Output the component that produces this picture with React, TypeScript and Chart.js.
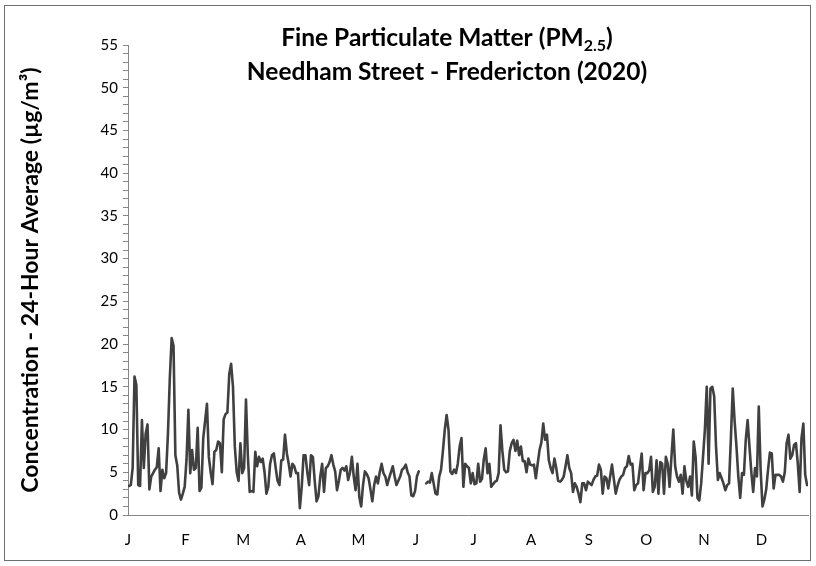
import React, { useEffect, useRef } from 'react';
import { Chart, registerables } from 'chart.js';

Chart.register(...registerables);

// Month tick labels (one every 31 days)
const monthLabels = ['J', 'F', 'M', 'A', 'M', 'J', 'J', 'A', 'S', 'O', 'N', 'D'];
const yMax = 55;

// Daily 24-hour PM2.5 averages (µg/m³), 2020
const jan = [3.4, 3.5, 5.5, 16.2, 15.2, 3.5, 3.4, 11.1, 5.5, 9.5, 10.6, 3, 4.5, 4.9, 5.3, 5.6, 7.8, 2.8, 5.3, 4.3, 4.9, 9.5, 16, 20.7, 19.8, 7, 5.8, 2.6, 1.8, 2.5, 3.3];
const feb = [6.5, 12.3, 4.9, 7.6, 5.3, 5.5, 10.2, 2.8, 3.2, 9, 11, 13, 6.8, 5, 3.6, 7.4, 7.6, 8.6, 8.4, 5, 11.2, 11.8, 12, 16.5, 17.7, 15, 8, 5, 4];
const mar = [8.4, 4.9, 5.5, 13.5, 7, 2.7, 2.8, 2.7, 7.4, 5.7, 6.8, 6.2, 6.6, 5, 2.5, 3.3, 6, 7, 7.2, 5.5, 4, 3.5, 6.4, 6.5, 9.4, 7.2, 6, 4.5, 6, 5.7, 4.9];
const apr = [4.9, 0.8, 3.3, 7, 7, 5, 3.5, 7, 6.8, 4, 1.6, 2.2, 4.5, 6, 2.7, 5.5, 5.7, 6.2, 7, 5.9, 5.1, 2.9, 4, 5.3, 5.5, 5.2, 5.7, 4.1, 5, 6.8];
const may = [4.5, 2.9, 6, 2.1, 1, 3.5, 5.1, 4.8, 4.3, 3, 1.6, 3.5, 4.5, 3.7, 5, 6, 4.9, 4.5, 3.5, 4.3, 5, 5.7, 4.5, 3.5, 4, 4.5, 5.3, 5.5, 5.9, 5, 4.5];
const jun = [2.3, 2.2, 2.8, 4.5, 5.1, null, null, null, 3.7, 3.9, 3.8, 4.9, 3.7, 2.5, 2.4, 4.5, 5.3, 7.5, 10, 11.7, 10, 5.1, 4.8, 5.3, 4.9, 6, 8, 9, 3.3, 6];
const jul = [5.7, 5.5, 3.7, 4.9, 3.6, 3.7, 6, 3.9, 4.2, 6.5, 7.8, 4.9, 6, 3.3, 3.6, 3.9, 4, 4.9, 10.5, 7.5, 5.3, 5, 5.1, 7.5, 8.4, 8.8, 7.5, 8.7, 7, 8, 6.3];
const aug = [6.3, 5, 6.6, 5.9, 5.8, 5.9, 4.3, 6, 7.6, 8.5, 10.7, 8.8, 9.4, 6.4, 5.5, 4.9, 6.6, 5.5, 4, 3.9, 4.1, 4.5, 5.7, 7, 5.5, 4.9, 2.7, 3.7, 3.3, 2.5, 1.5];
const sep = [3.7, 3.7, 2.9, 3.9, 3.7, 3.5, 4.1, 4.5, 4.6, 5.9, 5.3, 2.5, 4.5, 4.3, 3.1, 4.5, 5.9, 4.2, 2.5, 3.4, 4.1, 4.5, 4.7, 5.5, 5.7, 6.9, 5.9, 6, 2.9, 3.5];
const oct = [3.7, 5.5, 7.2, 2.9, 4.9, 4.9, 5.2, 6.8, 2.7, 3.3, 6.4, 2.5, 6.2, 6, 2.5, 6.8, 6, 3.3, 6.8, 10, 5.7, 4.5, 3.9, 4.7, 2.5, 5.7, 4, 3.3, 4.5, 2.3, 8.6];
const nov = [6.8, 2, 1.7, 3.7, 6.8, 10, 15, 6, 14.8, 15, 13.9, 8, 4.1, 4.9, 4.3, 3.7, 2.9, 3.5, 3.7, 9, 14.8, 11, 8, 4.5, 2, 4.9, 4.7, 8.8, 11.1, 8];
const dec = [5, 2.7, 5.5, 4.5, 12.7, 5.3, 1, 1.8, 3, 5.3, 7.3, 7.2, 3.1, 4.7, 4.7, 4.7, 4.5, 3.9, 5, 8.4, 9.4, 6.6, 7, 8.2, 8.4, 6, 2.7, 9, 10.7, 4.7, 3.5];

const daily: (number | null)[] = [...jan, ...feb, ...mar, ...apr, ...may, ...jun, ...jul, ...aug, ...sep, ...oct, ...nov, ...dec];

const titleLine1 = [
  { text: 'Fine Particulate Matter (PM', sub: false },
  { text: '2.5', sub: true },
  { text: ')', sub: false },
];
const titleLine2 = [{ text: 'Needham Street - Fredericton (2020)', sub: false }];
const yTitle = 'Concentration - 24-Hour Average (µg/m³)';

const FONT = 'Lato, "Open Sans", sans-serif';

const framePlugin = {
  id: 'frame',
  beforeDraw(chart: any) {
    const { ctx, width, height } = chart;
    ctx.save();
    ctx.fillStyle = '#ffffff';
    ctx.fillRect(0, 0, width, height);
    ctx.strokeStyle = '#6e6e6e';
    ctx.lineWidth = 1;
    ctx.strokeRect(4.5, 5.5, width - 10, height - 11);
    ctx.restore();
  },
};

function drawRuns(ctx: CanvasRenderingContext2D, runs: { text: string; sub: boolean }[], cx: number, y: number, size: number) {
  const mainFont = `bold ${size}px ${FONT}`;
  const subFont = `bold ${Math.round(size * 0.65)}px ${FONT}`;
  let total = 0;
  for (const r of runs) {
    ctx.font = r.sub ? subFont : mainFont;
    total += ctx.measureText(r.text).width;
  }
  let x = cx - total / 2;
  ctx.textAlign = 'left';
  ctx.textBaseline = 'alphabetic';
  for (const r of runs) {
    ctx.font = r.sub ? subFont : mainFont;
    ctx.fillText(r.text, x, r.sub ? y + size * 0.2 : y);
    x += ctx.measureText(r.text).width;
  }
}

const titlePlugin = {
  id: 'richTitle',
  afterDraw(chart: any) {
    const { ctx, chartArea } = chart;
    ctx.save();
    ctx.fillStyle = '#000000';
    const cx = (chartArea.left + chartArea.right) / 2 - 21;
    drawRuns(ctx, titleLine1, cx, 46, 24.5);
    drawRuns(ctx, titleLine2, cx, 80, 24.5);
    ctx.restore();
  },
};

export default function App() {
  const ref = useRef<HTMLCanvasElement>(null);

  useEffect(() => {
    if (!ref.current) return;
    const points = daily.map((v, i) => ({ x: i + 0.5, y: v }));
    const chart = new Chart(ref.current, {
      type: 'line',
      data: {
        datasets: [
          {
            label: 'PM2.5',
            data: points as any,
            borderColor: '#404040',
            borderWidth: 2.6,
            borderJoinStyle: 'round',
            borderCapStyle: 'round',
            pointRadius: 0,
            tension: 0,
            spanGaps: false,
          },
        ],
      },
      options: {
        animation: false,
        responsive: false,
        maintainAspectRatio: false,
        layout: { padding: { left: 0, right: 8, top: 45, bottom: 0 } },
        plugins: {
          legend: { display: false },
          tooltip: { enabled: false },
          title: { display: false },
        },
        scales: {
          x: {
            type: 'linear',
            min: 0,
            max: 366,
            afterBuildTicks: (axis: any) => {
              axis.ticks = monthLabels.map((_, i) => ({ value: i * 31 }));
            },
            afterFit: (scale: any) => {
              scale.height = 51;
            },
            ticks: {
              autoSkip: false,
              maxRotation: 0,
              padding: 16,
              color: '#000',
              font: { family: FONT, size: 15 },
              callback: (v: any) => monthLabels[Math.round(Number(v) / 31)] ?? '',
            },
            grid: { display: true, drawOnChartArea: false, drawTicks: false, color: '#868686' },
            border: { display: true, color: '#868686', width: 1 },
          },
          y: {
            min: 0,
            max: yMax,
            afterFit: (scale: any) => {
              scale.width = 128;
            },
            ticks: {
              stepSize: 1,
              autoSkip: false,
              padding: 5,
              color: '#000',
              font: { family: FONT, size: 15 },
              callback: (v: any) => (Number(v) % 5 === 0 ? String(v) : ''),
            },
            grid: { display: true, drawOnChartArea: false, drawTicks: true, tickLength: 5, color: '#868686' },
            border: { display: true, color: '#868686', width: 1 },
            title: {
              display: true,
              text: yTitle,
              color: '#000',
              font: { family: FONT, size: 23, weight: 'bold' },
              padding: { top: 17, bottom: 0 },
            },
          },
        },
      },
      plugins: [framePlugin, titlePlugin],
    });
    return () => chart.destroy();
  }, []);

  return (
    <div style={{ position: 'absolute', left: 0, top: 0, width: 816, height: 566, background: '#fff' }}>
      <canvas ref={ref} width={816} height={566} style={{ display: 'block', width: 816, height: 566 }} />
    </div>
  );
}
